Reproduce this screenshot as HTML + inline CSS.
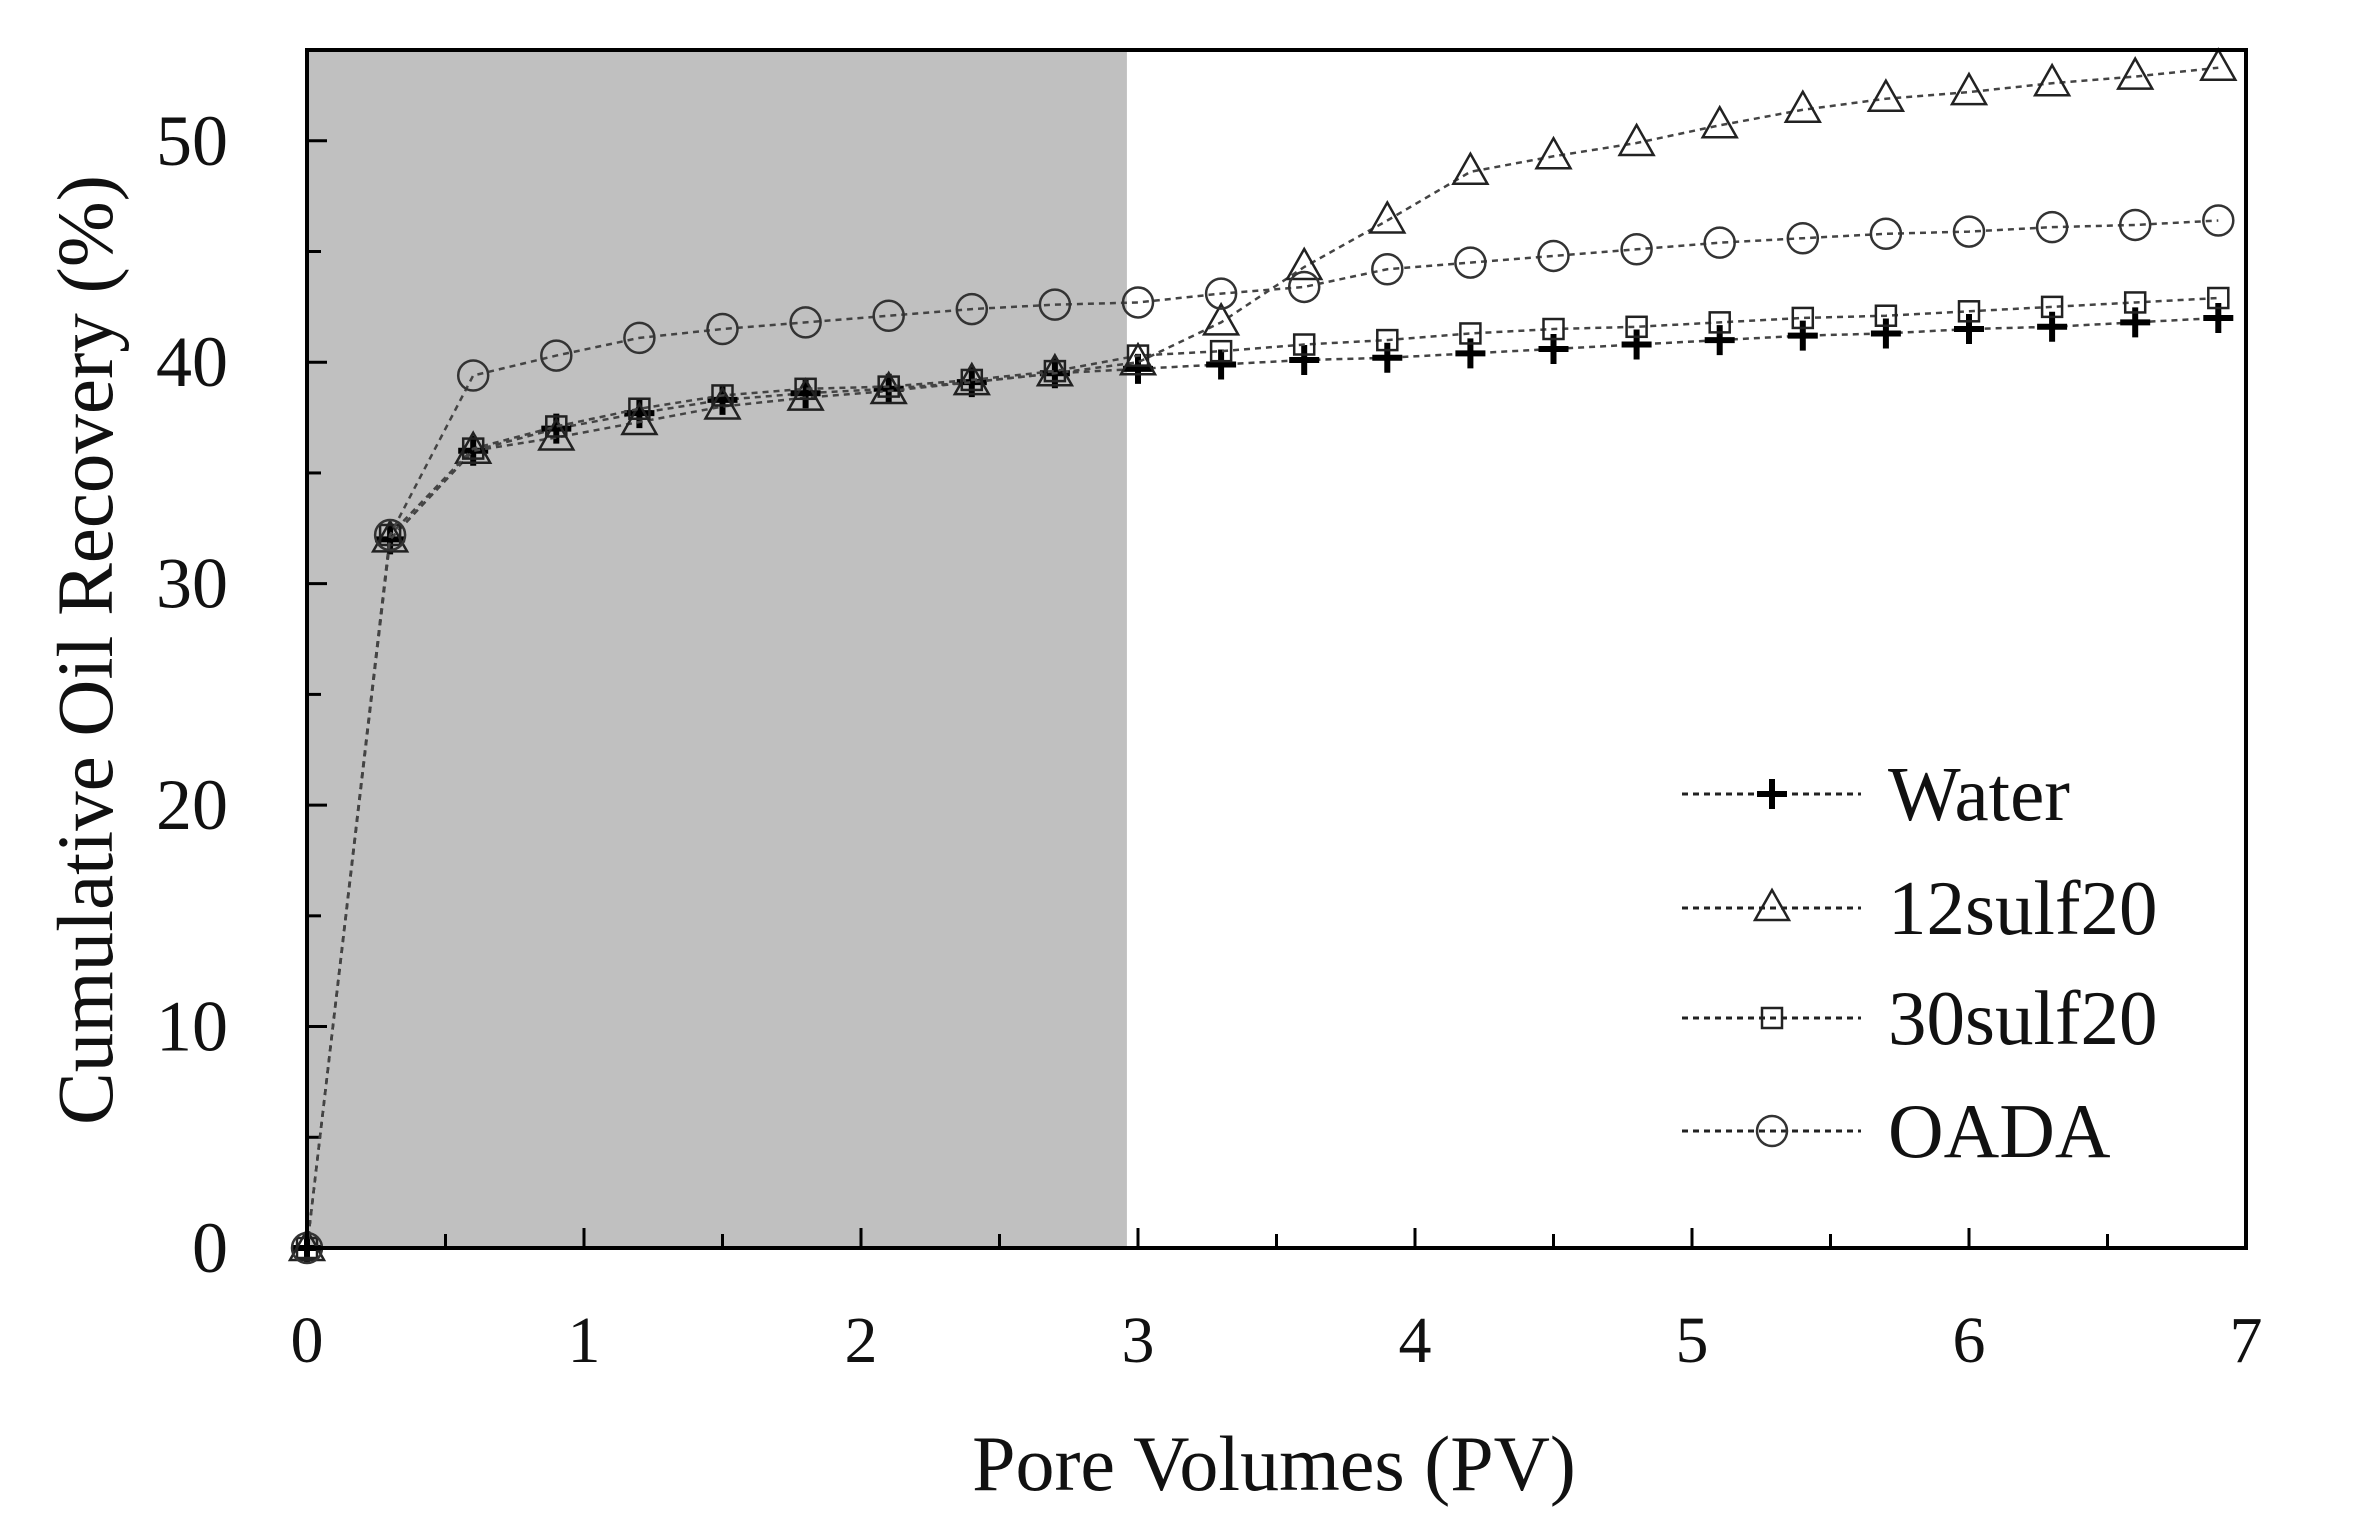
<!DOCTYPE html>
<html><head><meta charset="utf-8"><style>
html,body{margin:0;padding:0;background:#fff;}
svg{display:block;font-family:"Liberation Serif",serif;}
</style></head><body>
<svg id="chart" width="2371" height="1520" viewBox="0 0 2371 1520" xmlns="http://www.w3.org/2000/svg">
<g id="plot"></g>
</svg>
<script>
const xValues=[0,0.3,0.6,0.9,1.2,1.5,1.8,2.1,2.4,2.7,3.0,3.3,3.6,3.9,4.2,4.5,4.8,5.1,5.4,5.7,6.0,6.3,6.6,6.9];
const waterY=[0,32,36,37,37.7,38.3,38.6,38.8,39.1,39.5,39.7,39.9,40.1,40.2,40.4,40.6,40.8,41.0,41.2,41.3,41.5,41.6,41.8,42.0];
const sulf12Y=[0,32,36,36.6,37.3,38.0,38.4,38.7,39.1,39.5,40.0,41.8,44.3,46.4,48.6,49.3,49.9,50.7,51.4,51.9,52.2,52.6,52.9,53.3];
const sulf30Y=[0,32.2,36.1,37.1,37.9,38.5,38.8,38.9,39.2,39.6,40.3,40.5,40.8,41.0,41.3,41.5,41.6,41.8,42.0,42.1,42.3,42.5,42.7,42.9];
const oadaY=[0,32.2,39.4,40.3,41.1,41.5,41.8,42.1,42.4,42.6,42.7,43.1,43.4,44.2,44.5,44.8,45.1,45.4,45.6,45.8,45.9,46.1,46.2,46.4];
const xTickLabels=["0","1","2","3","4","5","6","7"];
const yTickLabels=["0","10","20","30","40","50"];
const shadeEnd=2.96;
const seriesNames=["Water","12sulf20","30sulf20","OADA"];

const L=307,R=2246,T=50,B=1248,XMAX=7,YMAX=54.1;
const sx=v=>L+(R-L)*v/XMAX;
const sy=v=>B-(B-T)*v/YMAX;
const NS="http://www.w3.org/2000/svg";
const g=document.getElementById('plot');
function mk(tag,attrs,parent){const e=document.createElementNS(NS,tag);for(const k in attrs)e.setAttribute(k,attrs[k]);(parent||g).appendChild(e);return e;}

let e=mk('rect',{x:L,y:T,width:sx(shadeEnd)-L,height:B-T,fill:'#c0c0c0'});



for(let i=0;i<=14;i++){const x=sx(i*0.5);const t=mk('line',{x1:x,x2:x,y1:B,y2:B-(i%2?14:20),stroke:'#000','stroke-width':3});

}
for(let i=0;i<=10;i++){const y=sy(i*5);const t=mk('line',{x1:L,x2:L+(i%2?14:20),y1:y,y2:y,stroke:'#000','stroke-width':3});

}
xTickLabels.forEach((s,i)=>{const t=mk('text',{x:sx(i),y:1362,'font-size':66,'text-anchor':'middle',fill:'#111'});t.textContent=s;

});
yTickLabels.forEach((s,i)=>{const t=mk('text',{x:228,y:sy(i*10)+24,'font-size':72,'text-anchor':'end',fill:'#111'});t.textContent=s;

});

function marker(type,x,y,parent){
 if(type==='plus'){return mk('path',{d:`M${x-15},${y}H${x+15}M${x},${y-15}V${y+15}`,stroke:'#000','stroke-width':6,fill:'none'},parent);}
 if(type==='tri'){return mk('path',{d:`M${x},${y-18}L${x+17},${y+12}L${x-17},${y+12}Z`,stroke:'#222','stroke-width':2.5,fill:'none'},parent);}
 if(type==='sq'){return mk('rect',{x:x-10,y:y-10,width:20,height:20,stroke:'#222','stroke-width':2.5,fill:'none'},parent);}
 return mk('circle',{cx:x,cy:y,r:15,stroke:'#333','stroke-width':2.5,fill:'none'},parent);
}
const series=[[waterY,'plus'],[sulf12Y,'tri'],[sulf30Y,'sq'],[oadaY,'circ']];
series.forEach(([ys,m],si)=>{
 const sg=mk('g',{});
 
 
 const pl=mk('polyline',{points:xValues.map((x,i)=>sx(x)+','+sy(ys[i])).join(' '),fill:'none',stroke:'#444','stroke-width':2.5,'stroke-dasharray':'6 5'},sg);
 
 
 xValues.forEach((x,i)=>{const mm=marker(m,sx(x),sy(ys[i]),sg);
 
 });
});

e=mk('rect',{x:L,y:T,width:R-L,height:B-T,fill:'none',stroke:'#000','stroke-width':4});



const lg=mk('g',{});


const rows=[794,908,1018,1131];
series.forEach(([ys,m],i)=>{
 const y=rows[i];
 const ln=mk('line',{x1:1682,x2:1861,y1:y,y2:y,stroke:'#222','stroke-width':3,'stroke-dasharray':'6 5'},lg);
 
 
 marker(m,1772,y,lg);
 const t=mk('text',{x:1888,y:y+26,'font-size':77,fill:'#111'},lg);t.textContent=seriesNames[i];
 
 
});

e=mk('text',{x:1274,y:1490,'font-size':78,'text-anchor':'middle',fill:'#111'});e.textContent='Pore Volumes (PV)';


e=mk('text',{x:0,y:0,'font-size':79,'text-anchor':'middle',fill:'#111',transform:'translate(112,650) rotate(-90)'});e.textContent='Cumulative Oil Recovery (%)';


</script>
</body></html>
